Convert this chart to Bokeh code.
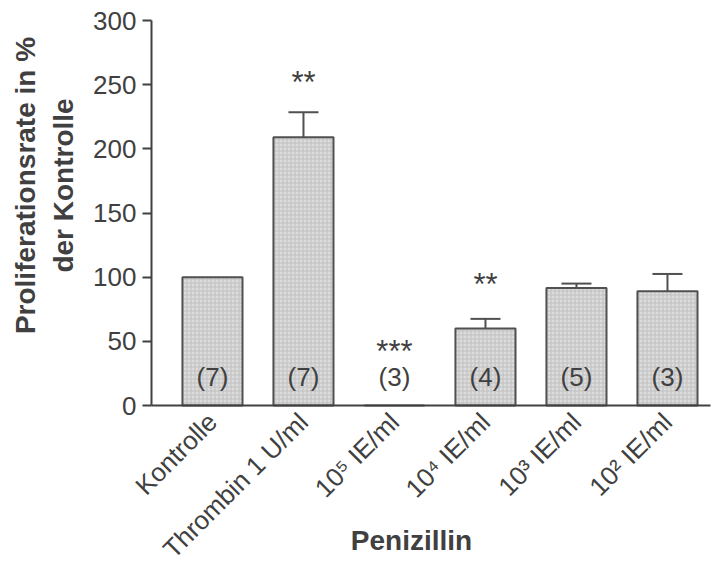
import numpy as np
from bokeh.plotting import figure
from bokeh.models import Range1d, FixedTicker, ColumnDataSource
from bokeh.core.properties import value
from bokeh.embed import file_html
from bokeh.resources import INLINE

categories = ["Kontrolle", "Thrombin 1 U/ml", "10⁵ IE/ml", "10⁴ IE/ml", "10³ IE/ml", "10² IE/ml"]
means = [100, 209, 0, 60, 91.5, 89]
errors = [0, 19.5, 0, 7.5, 3.5, 13.5]
n_labels = ["(7)", "(7)", "(3)", "(4)", "(5)", "(3)"]
sig_labels = ["", "**", "***", "**", "", ""]
sig_y = [None, 252, 42, 94, None, None]
n_label_y = 22
y_ticks = [0, 50, 100, 150, 200, 250, 300]
y_title = ["Proliferationsrate in %", "der Kontrolle"]
x_title = "Penizillin"

FONT = "Liberation Sans"
GREY = "#404040"

W, H = 714, 566
# layout: plot area in canvas pixels
FR_LEFT, FR_TOP, FR_BOTTOM = 151, 20, 405
PX_PER_CAT = 91.0
X_LO, X_HI = -0.67, 5.47
Y_LO, Y_HI = 0, 300
py = (FR_BOTTOM - FR_TOP) / (Y_HI - Y_LO)

def cx(px):  # canvas px -> data x
    return X_LO + (px - FR_LEFT) / PX_PER_CAT

def cy(px):  # canvas px -> data y
    return Y_HI - (px - FR_TOP) / py

x = list(range(len(categories)))

p = figure(width=W, height=H, output_backend="svg", toolbar_location=None,
           x_range=Range1d(cx(0), cx(W)), y_range=Range1d(cy(H), cy(0)),
           min_border=0, min_border_left=0, min_border_right=0,
           min_border_top=0, min_border_bottom=0)
p.outline_line_color = None
p.grid.grid_line_color = None
p.background_fill_color = "white"
p.border_fill_color = "white"

src = ColumnDataSource(dict(x=x, top=means))
p.vbar(x="x", top="top", width=0.66, bottom=0, source=src,
       fill_color="#dcdcdc", line_color="#505050", line_width=2,
       hatch_pattern="+", hatch_color="#c0c0c0", hatch_scale=4, hatch_weight=1)

# error bars (upper only)
ex, ey0, ey1, cx0, cx1, cyy = [], [], [], [], [], []
for xi, m, e in zip(x, means, errors):
    if e > 0:
        ex.append(xi); ey0.append(m); ey1.append(m + e)
        cx0.append(xi - 0.165); cx1.append(xi + 0.165); cyy.append(m + e)
p.segment(x0=ex, y0=ey0, x1=ex, y1=ey1, line_color="#505050", line_width=2)
p.segment(x0=cx0, y0=cyy, x1=cx1, y1=cyy, line_color="#505050", line_width=2)

# n labels
p.text(x=x, y=[n_label_y] * len(x), text=n_labels, text_align="center", text_baseline="middle",
       text_font=value(FONT), text_font_size="26px", text_color=GREY)

# significance labels
sx = [xi for xi, s in zip(x, sig_labels) if s]
sy = [v for v, s in zip(sig_y, sig_labels) if s]
st = [s for s in sig_labels if s]
p.text(x=sx, y=sy, text=st, text_align="center", text_baseline="middle",
       text_font=value(FONT), text_font_size="31px", text_color=GREY)

# axes (fixed inside the full-canvas frame)
xa = p.xaxis[0]
xa.fixed_location = 0
xa.bounds = (X_LO, X_HI)
xa.ticker = FixedTicker(ticks=x)
xa.major_label_overrides = {i: c for i, c in enumerate(categories)}
xa.major_label_orientation = np.pi / 4
xa.major_tick_line_color = None
xa.minor_tick_line_color = None
xa.axis_line_color = GREY
xa.axis_line_width = 2
xa.major_label_text_font = FONT
xa.major_label_text_font_size = "26px"
xa.major_label_text_color = GREY
xa.major_label_standoff = 6

ya = p.yaxis[0]
ya.fixed_location = X_LO
ya.bounds = (Y_LO, Y_HI)
ya.ticker = FixedTicker(ticks=y_ticks)
ya.minor_tick_line_color = None
ya.major_tick_out = 9
ya.major_tick_in = 0
ya.major_tick_line_color = GREY
ya.major_tick_line_width = 2
ya.axis_line_color = GREY
ya.axis_line_width = 2
ya.major_label_text_font = FONT
ya.major_label_text_font_size = "26px"
ya.major_label_text_color = GREY
ya.major_label_standoff = 6

# axis titles
p.text(x=[cx(25), cx(63)], y=[cy(185), cy(185)], text=y_title, angle=np.pi / 2,
       text_align="center", text_baseline="middle", text_font=value(FONT),
       text_font_style="bold", text_font_size="28px", text_color=GREY)
p.text(x=[cx(411)], y=[cy(540)], text=[x_title], text_align="center", text_baseline="middle",
       text_font=value(FONT), text_font_style="bold", text_font_size="28px", text_color=GREY)

open("out.html", "w").write(file_html(p, INLINE))
